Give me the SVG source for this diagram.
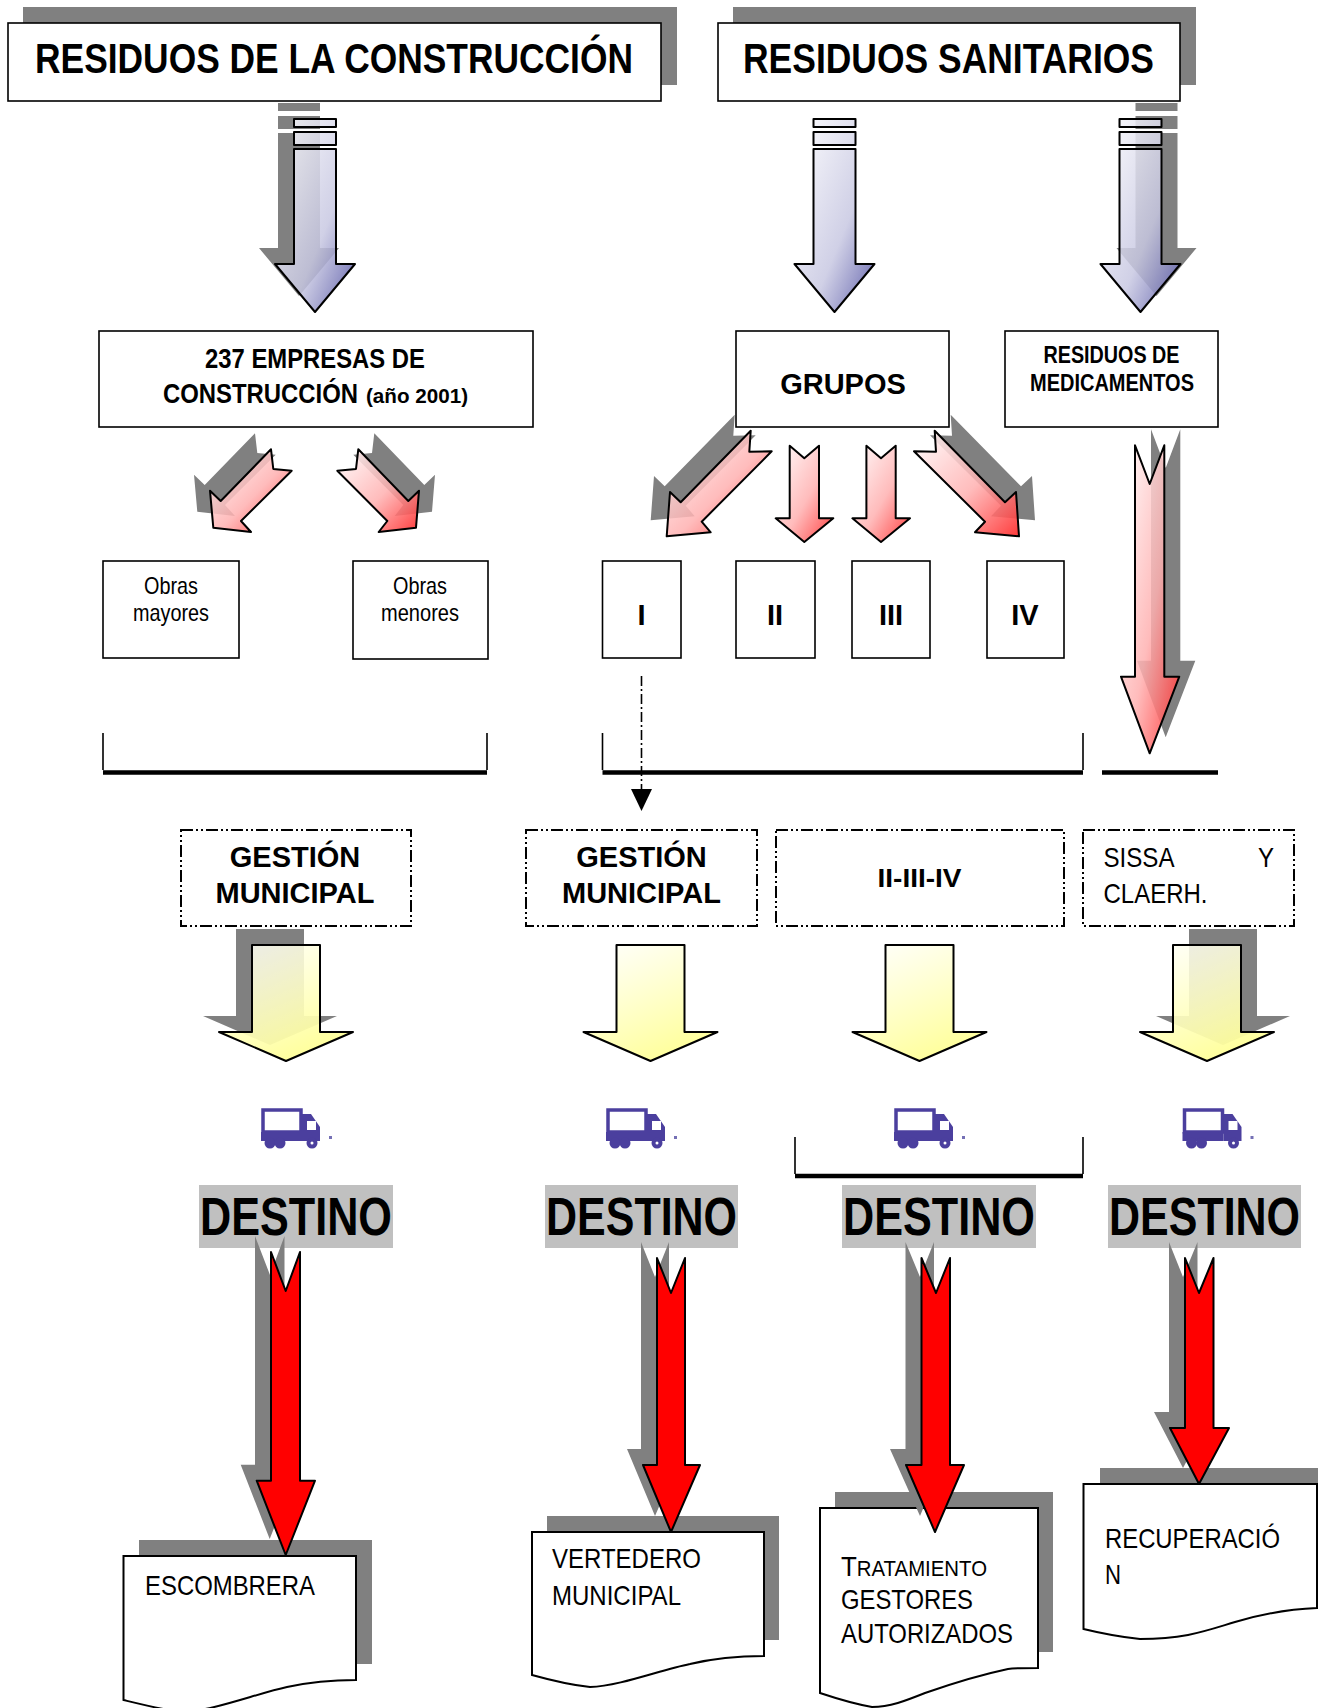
<svg xmlns="http://www.w3.org/2000/svg" width="1329" height="1708" viewBox="0 0 1329 1708">
<style>
text{font-family:"Liberation Sans",Arial,sans-serif;fill:#000}
.b{font-weight:bold}
.m{text-anchor:middle}
.box{fill:#fff;stroke:#000;stroke-width:1.6}
.doc{fill:#fff;stroke:#000;stroke-width:2}
.dash{fill:#fff;stroke:#000;stroke-width:2;stroke-dasharray:12 3 2 3 2 3}
.sh{fill:#808080}
.ar{stroke:#000;stroke-width:2;stroke-linejoin:round}
.blue{fill:url(#gb)}
.red{fill:url(#gr)}
.yel{fill:url(#gy)}
.sred{fill:#f00}
.br{fill:none;stroke:#000;stroke-width:1.6}
.th{fill:none;stroke:#000;stroke-width:4.5}
.lab{fill:#c0c0c0}
.tr{fill:#4b3f9e}
</style>
<defs>
<linearGradient id="gb" x1="0" y1="0" x2="1" y2="1"><stop offset="0" stop-color="#fff" stop-opacity=".9"/><stop offset=".6" stop-color="#c8c8e2" stop-opacity=".85"/><stop offset="1" stop-color="#5555a5" stop-opacity=".95"/></linearGradient>
<linearGradient id="gr" x1="0" y1="0" x2="1" y2="1"><stop offset="0" stop-color="#fff" stop-opacity=".9"/><stop offset=".55" stop-color="#ffb0b0" stop-opacity=".85"/><stop offset="1" stop-color="#ff2a2a" stop-opacity=".92"/></linearGradient>
<linearGradient id="gy" x1="0" y1="0" x2=".5" y2="1"><stop offset="0" stop-color="#fff" stop-opacity=".85"/><stop offset="1" stop-color="#ffff99" stop-opacity=".95"/></linearGradient>
<path id="aB" d="M-21-193H21V-185H-21ZM-21-180H21V-167H-21ZM-21-163H21V-48H40L0 0-40-48H-21Z"/>
<path id="aY" d="M-34-116H34V-29H67L0 0-67-29H-34Z"/>
<path id="aL" d="M271 449.3 273.3 469 291.7 470.7 241 521 251 532 213.3 527.7 210 490.7 220.7 501Z"/>
<path id="aR" d="M358.3 449.3 356 469 337.3 470.7 387.3 521 378.7 532 416 527.7 419 490.7 408.3 501Z"/>
<path id="aGL" d="M750.7 430.7 749.3 451.7 771.7 451.3 701.7 521.7 710.7 532.3 666.7 536.3 670 492 680.7 502.3Z"/>
<path id="aGR" d="M934.7 430.7 936 451.7 914 451.3 985 521.7 975 532.3 1019 536.3 1016 492 1005 502.3Z"/>
<path id="aD" d="M789.7 445.7 804.3 458.3 819 445.7V518.3H833.3L804.3 542 775.7 518.3H789.7Z"/>
<path id="aLong" d="M1135 445.3 1149.7 484 1164.3 445.3V676.7H1179.3L1149.7 753.3 1121 676.7H1135Z"/>
<g id="truck">
<rect x="263" y="1110" width="38" height="22" fill="#fff" stroke="#4b3f9e" stroke-width="3.5"/>
<path class="tr" d="M302 1114H311L320 1127V1141H302Z"/>
<rect x="307" y="1121" width="9" height="9" fill="#fff"/>
<rect class="tr" x="261" y="1132" width="41" height="9"/>
<circle class="tr" cx="270" cy="1143" r="5.5"/><circle class="tr" cx="280" cy="1143" r="5.5"/><circle class="tr" cx="312" cy="1143" r="5.5"/>
<circle cx="312" cy="1143" r="1.5" fill="#fff"/>
<rect x="329" y="1136" width="3" height="3" fill="#7570b5"/>
</g>
</defs>

<g id="node-construccion"><rect class="sh" x="23" y="7" width="654" height="78"/><rect class="box" x="8" y="23" width="653" height="78"/>
<text class="b" x="35" y="73" font-size="43" textLength="598" lengthAdjust="spacingAndGlyphs">RESIDUOS DE LA CONSTRUCCIÓN</text></g>
<g id="node-sanitarios"><rect class="sh" x="733" y="7" width="463" height="78"/><rect class="box" x="718" y="23" width="462" height="78"/>
<text class="b" x="743" y="73" font-size="43" textLength="411" lengthAdjust="spacingAndGlyphs">RESIDUOS SANITARIOS</text></g>
<g id="node-empresas"><rect class="box" x="99" y="331" width="434" height="96"/>
<text class="b" x="205" y="368" font-size="28" textLength="220" lengthAdjust="spacingAndGlyphs">237 EMPRESAS DE</text>
<text class="b" transform="translate(163 403) scale(.853 1)" font-size="28">CONSTRUCCIÓN</text>
<text class="b" x="366" y="403" font-size="21" textLength="102" lengthAdjust="spacingAndGlyphs">(año 2001)</text></g>
<g id="node-grupos"><rect class="box" x="736" y="331" width="213" height="96"/>
<text class="b m" x="843" y="394" font-size="29">GRUPOS</text></g>
<g id="node-medicamentos"><rect class="box" x="1005" y="331" width="213" height="96"/>
<text class="b" x="1043.5" y="363" font-size="24" textLength="136" lengthAdjust="spacingAndGlyphs">RESIDUOS DE</text>
<text class="b" x="1030" y="391" font-size="24" textLength="164" lengthAdjust="spacingAndGlyphs">MEDICAMENTOS</text></g>
<g id="node-mayores"><rect class="box" x="103" y="561" width="136" height="97"/>
<text x="144" y="594" font-size="24" textLength="54" lengthAdjust="spacingAndGlyphs">Obras</text>
<text x="133" y="621" font-size="24" textLength="76" lengthAdjust="spacingAndGlyphs">mayores</text></g>
<g id="node-menores"><rect class="box" x="353" y="561" width="135" height="98"/>
<text x="393" y="594" font-size="24" textLength="54" lengthAdjust="spacingAndGlyphs">Obras</text>
<text x="381" y="621" font-size="24" textLength="78" lengthAdjust="spacingAndGlyphs">menores</text></g>
<g id="node-i"><rect class="box" x="602.5" y="561" width="78.5" height="97"/><text class="b m" x="641.5" y="625" font-size="29">I</text></g>
<g id="node-ii"><rect class="box" x="736" y="561" width="79" height="97"/><text class="b m" x="775" y="625" font-size="29">II</text></g>
<g id="node-iii"><rect class="box" x="852" y="561" width="78" height="97"/><text class="b m" x="891" y="625" font-size="29">III</text></g>
<g id="node-iv"><rect class="box" x="987" y="561" width="77" height="97"/><text class="b m" x="1025" y="625" font-size="29">IV</text></g>

<g id="brackets">
<path class="br" d="M103 733V770M487 733V770M602.5 733V770M1083 733V770M795 1137V1174M1083 1137V1174"/>
<path class="th" d="M103 772.5H487M602.5 772.5H1083M1102 772.5H1218M795 1176H1083"/>
</g>

<g id="node-gestion1"><rect class="dash" x="181" y="830" width="230" height="96"/>
<text class="b m" x="295" y="867" font-size="29">GESTIÓN</text><text class="b m" x="295" y="903" font-size="29">MUNICIPAL</text></g>
<g id="node-gestion2"><rect class="dash" x="526" y="830" width="231" height="96"/>
<text class="b m" x="641.5" y="867" font-size="29">GESTIÓN</text><text class="b m" x="641.5" y="903" font-size="29">MUNICIPAL</text></g>
<g id="node-ii-iii-iv"><rect class="dash" x="776" y="830" width="288" height="96"/>
<text class="b m" x="919.5" y="887" font-size="26" textLength="84" lengthAdjust="spacingAndGlyphs">II-III-IV</text></g>
<g id="node-sissa"><rect class="dash" x="1083" y="830" width="211" height="96"/>
<text x="1103.5" y="866.5" font-size="28" textLength="71" lengthAdjust="spacingAndGlyphs">SISSA</text>
<text x="1258" y="866.5" font-size="28" textLength="16" lengthAdjust="spacingAndGlyphs">Y</text>
<text x="1103.5" y="903" font-size="28" textLength="104" lengthAdjust="spacingAndGlyphs">CLAERH.</text></g>

<g id="trucks">
<use href="#truck"/><use href="#truck" x="345"/><use href="#truck" x="633"/><use href="#truck" x="921.5"/>
</g>

<g id="node-destino1"><rect class="lab" x="199" y="1185" width="194" height="63"/><text class="b" transform="translate(200 1235) scale(.815 1)" font-size="53">DESTINO</text></g>
<g id="node-destino2"><rect class="lab" x="545" y="1185" width="193" height="63"/><text class="b" transform="translate(546 1235) scale(.811 1)" font-size="53">DESTINO</text></g>
<g id="node-destino3"><rect class="lab" x="842" y="1185" width="194" height="63"/><text class="b" transform="translate(843 1235) scale(.815 1)" font-size="53">DESTINO</text></g>
<g id="node-destino4"><rect class="lab" x="1108" y="1185" width="193" height="63"/><text class="b" transform="translate(1109 1235) scale(.811 1)" font-size="53">DESTINO</text></g>

<g id="node-escombrera"><rect class="sh" x="139" y="1540" width="233" height="124"/>
<path class="doc" d="M123.5 1556H356V1680C335 1680 310 1682 287 1687C255 1694 210 1712 180 1712C160 1709 140 1704 123.5 1700Z"/>
<text x="145" y="1594.5" font-size="28" textLength="170" lengthAdjust="spacingAndGlyphs">ESCOMBRERA</text></g>
<g id="node-vertedero"><rect class="sh" x="547" y="1516" width="232" height="124"/>
<path class="doc" d="M532 1532H764V1656C740 1656 715 1658 690 1664C660 1670 620 1686 590 1687C570 1685 550 1680 532 1675Z"/>
<text x="552" y="1568" font-size="28" textLength="149" lengthAdjust="spacingAndGlyphs">VERTEDERO</text>
<text x="552" y="1605" font-size="28" textLength="129" lengthAdjust="spacingAndGlyphs">MUNICIPAL</text></g>
<g id="node-tratamiento"><rect class="sh" x="835" y="1492" width="218" height="160"/>
<path class="doc" d="M820 1508H1038V1668C1028 1668 1015 1668 1008 1669C975 1676 945 1686 925 1693C905 1701 890 1707 872 1707C855 1704 835 1698 820 1693Z"/>
<text x="841" y="1576" font-size="28" textLength="146" lengthAdjust="spacingAndGlyphs">T<tspan font-size="22">RATAMIENTO</tspan></text>
<text x="841" y="1609" font-size="28" textLength="132" lengthAdjust="spacingAndGlyphs">GESTORES</text>
<text x="841" y="1643" font-size="28" textLength="172" lengthAdjust="spacingAndGlyphs">AUTORIZADOS</text></g>
<g id="node-recuperacion"><rect class="sh" x="1100" y="1468" width="218" height="122"/>
<path class="doc" d="M1083.5 1484H1317V1608C1290 1609 1262 1614 1235 1622C1205 1631 1185 1639 1140 1639C1120 1637 1100 1633 1083.5 1629Z"/>
<text x="1105" y="1548" font-size="28" textLength="175" lengthAdjust="spacingAndGlyphs">RECUPERACIÓ</text>
<text x="1105" y="1584" font-size="28" textLength="16" lengthAdjust="spacingAndGlyphs">N</text></g>

<g id="connectors">
<use class="sh" href="#aB" transform="translate(299 296)"/><use class="ar blue" href="#aB" transform="translate(315 312)"/>
<use class="ar blue" href="#aB" transform="translate(834.5 312)"/>
<use class="sh" href="#aB" transform="translate(1156.5 296)"/><use class="ar blue" href="#aB" transform="translate(1140.5 312)"/>

<use class="sh" href="#aL" transform="translate(-16 -16)"/><use class="ar red" href="#aL"/>
<use class="sh" href="#aR" transform="translate(16 -16)"/><use class="ar red" href="#aR"/>
<use class="sh" href="#aGL" transform="translate(-16 -16)"/><use class="ar red" href="#aGL"/>
<use class="ar red" href="#aD"/><use class="ar red" href="#aD" x="76.7"/>
<use class="sh" href="#aGR" transform="translate(16 -16)"/><use class="ar red" href="#aGR"/>
<use class="sh" href="#aLong" transform="translate(16 -16)"/><use class="ar red" href="#aLong"/>

<path d="M641.5 676V789" fill="none" stroke="#000" stroke-width="1.6" stroke-dasharray="10 3 2 3"/>
<path d="M631 789H652L641.5 811Z" fill="#000"/>

<use class="sh" href="#aY" transform="translate(270 1045)"/><use class="ar yel" href="#aY" transform="translate(286 1061)"/>
<use class="ar yel" href="#aY" transform="translate(650.5 1061)"/>
<use class="ar yel" href="#aY" transform="translate(919.5 1061)"/>
<use class="sh" href="#aY" transform="translate(1223 1045)"/><use class="ar yel" href="#aY" transform="translate(1207 1061)"/>

<path class="sh" d="M255 1236 270 1275 284.5 1236V1464.7H299L269.7 1539 240.7 1464.7H255Z"/>
<path class="ar sred" d="M271 1252 285.7 1291 300 1252V1480.7H315L285.7 1555 256.7 1480.7H271Z"/>
<path class="sh" d="M641 1242 655 1277 669 1242V1449H684L655 1516 627 1449H641Z"/>
<path class="ar sred" d="M657 1258 671 1293 685 1258V1465H700L671 1532 643 1465H657Z"/>
<path class="sh" d="M905.5 1242 920 1277 934 1242V1449H948L920 1516 890 1449H905.5Z"/>
<path class="ar sred" d="M921.5 1258 936 1293 950 1258V1465H964L935 1532 906 1465H921.5Z"/>
<path class="sh" d="M1169 1242 1183 1277 1197.5 1242V1412H1213L1183 1468 1154 1412H1169Z"/>
<path class="ar sred" d="M1185 1258 1199 1293 1213.5 1258V1428H1229L1199 1484 1170 1428H1185Z"/>
</g>
</svg>
